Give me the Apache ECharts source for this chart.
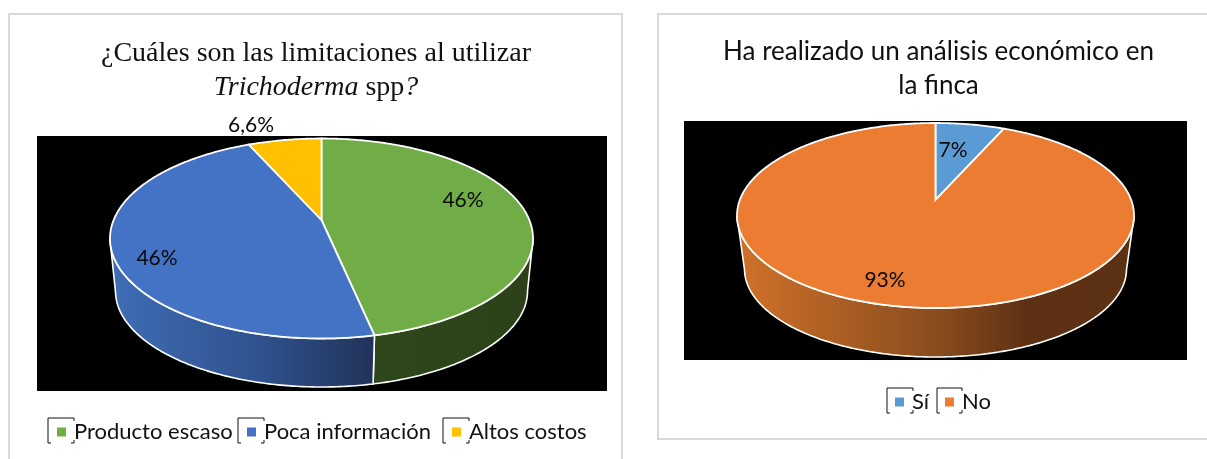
<!DOCTYPE html>
<html><head><meta charset="utf-8">
<style>html,body{margin:0;padding:0;background:#fff;overflow:hidden}#c{width:1207px;height:459px}</style>
<script src="https://cdn.jsdelivr.net/npm/echarts@6/dist/echarts.min.js"></script>
</head><body><div id="c"></div>
<script>
const limitCategories = ['Producto escaso', 'Poca información', 'Altos costos'];
const limitValues = [46, 46, 6.6];
const limitLabels = ['46%', '46%', '6,6%'];
const fincaCategories = ['Sí', 'No'];
const fincaValues = [6.6, 93.4];
const fincaLabels = ['7%', '93%'];

const limitColors = ['#70ad47', '#4472c4', '#ffc000'];
const fincaColors = ['#5b9bd5', '#eb7c32'];
const limitSideStops = [
  [[0, '#2e471b'], [1, '#2c4119']],
  [[0, '#3f6cb4'], [0.55, '#30528f'], [1, '#21335a']],
  [[0, '#a87f00'], [1, '#7f6000']]
];
const fincaSideStops = [
  [[0, '#3a6d9c'], [1, '#2f5577']],
  [[0, '#cd7029'], [0.5, '#8a4c1e'], [0.74, '#5e3114'], [1, '#5c3013']]
];

const limitShape = {cx: 321.5, cy: 238.5, rx: 211.5, ry: 100, a: 0.185, rx2: 206, cy2: 291, ry2: 96};
const fincaShape = {cx: 935.5, cy: 215.5, rx: 198.5, ry: 92.5, a: 0.168, rx2: 191, cy2: 269, ry2: 88};
const limitLabelAt = [[463, 200], [157, 258], [251, 125]];
const fincaLabelAt = [[953, 150], [885, 280]];

function rim(theta, a) {
  const u = Math.sin(theta), v = Math.cos(theta), d = 1 + a * v;
  return [u * Math.sqrt(1 - a * a) / d, (v + a) / d];
}

function sliceSeries(names, values, labels, colors, sideStops, g, labelAt) {
  const total = values.reduce((s, v) => s + v, 0);
  let acc = 0;
  return names.map((name, i) => {
    const t0 = acc / total * 2 * Math.PI;
    acc += values[i];
    const t1 = acc / total * 2 * Math.PI;
    return {
      type: 'custom', name, coordinateSystem: 'none', silent: true, z: 3 + i,
      itemStyle: {color: colors[i]},
      data: [values[i]],
      renderItem() {
        const n = Math.max(8, Math.ceil((t1 - t0) * 80));
        const top = [[g.cx, g.cy - g.a * g.ry]];
        const upper = [], lower = [];
        for (let k = 0; k <= n; k++) {
          const p = rim(t0 + (t1 - t0) * k / n, g.a);
          top.push([g.cx + g.rx * p[0], g.cy - g.ry * p[1]]);
          if (p[1] <= 0) {
            upper.push([g.cx + g.rx * p[0], g.cy - g.ry * p[1]]);
            lower.push([g.cx + g.rx2 * p[0], g.cy2 - g.ry2 * p[1]]);
          }
        }
        const children = [];
        if (upper.length > 1) {
          const xs = lower.map(q => q[0]);
          const x0 = Math.min(...xs), x1 = Math.max(...xs);
          children.push({
            type: 'polygon', shape: {points: upper.concat(lower.reverse())},
            style: {
              fill: new echarts.graphic.LinearGradient(x0, 0, x1, 0,
                sideStops[i].map(s => ({offset: s[0], color: s[1]})), true),
              stroke: '#fff', lineWidth: 1.6
            }
          });
        }
        children.push({type: 'polygon', shape: {points: top},
          style: {fill: colors[i], stroke: '#fff', lineWidth: 1.8}});
        children.push({type: 'text', z2: 50, style: {
          x: labelAt[i][0], y: labelAt[i][1], text: labels[i], fill: '#0a0a0a',
          font: '21px Lato', align: 'center', verticalAlign: 'middle'}});
        return {type: 'group', children};
      }
    };
  });
}

function bracket(x0, y0, x1, y1) {
  const line = s => ({type: 'polyline', z: 1, shape: {points: s}, style: {fill: null, stroke: '#111', lineWidth: 1}});
  return [
    line([[x0 + 3, y1], [x0, y1], [x0, y0], [x1, y0], [x1, y0 + 3]]),
    line([[x1 - 3, y1], [x1, y1], [x1, y1 - 3]])
  ];
}
function legendItem(name, left, top) {
  return {data: [name], left, top, icon: 'rect', itemWidth: 9, itemHeight: 9, itemGap: 0, padding: 0,
    selectedMode: false, textStyle: {fontFamily: 'Lato', fontSize: 22, color: '#111', padding: [0, 0, 0, 3]}};
}
const card = (x, y, w, h) => ({type: 'rect', z: -2, shape: {x, y, width: w, height: h},
  style: {fill: '#fff', stroke: '#d9d9d9', lineWidth: 2}});
const black = (x, y, w, h) => ({type: 'rect', z: -1, shape: {x, y, width: w, height: h}, style: {fill: '#000'}});

const chart = echarts.init(document.getElementById('c'), null, {renderer: 'canvas'});
chart.setOption({
  animation: false,
  backgroundColor: '#fff',
  title: [
    {text: '¿Cuáles son las limitaciones al utilizar\n{i|Trichoderma} spp{i|?}', left: 311, top: 32, textAlign: 'center',
      textStyle: {fontFamily: 'Liberation Serif', fontSize: 28, fontWeight: 'normal', color: '#111', lineHeight: 34,
        rich: {i: {fontFamily: 'Liberation Serif', fontStyle: 'italic', fontSize: 28, color: '#111', lineHeight: 34}}}},
    {text: 'Ha realizado un análisis económico en\nla finca', left: 933.5, top: 30, textAlign: 'center',
      textStyle: {fontFamily: 'Lato', fontSize: 26, fontWeight: 'normal', color: '#111', lineHeight: 34}}
  ],
  legend: [
    legendItem(limitCategories[0], 57, 421),
    legendItem(limitCategories[1], 247, 421),
    legendItem(limitCategories[2], 452, 421),
    legendItem(fincaCategories[0], 895, 391),
    legendItem(fincaCategories[1], 945, 391)
  ],
  graphic: {elements: [
    card(9, 14, 613, 470),
    card(658, 14, 560, 425),
    black(37, 136, 570, 255),
    black(684, 121, 503, 239),
    ...bracket(48, 418, 74, 443),
    ...bracket(238, 418, 264, 443),
    ...bracket(443, 418, 469, 443),
    ...bracket(887, 388, 913, 413),
    ...bracket(937, 388, 962, 413)
  ]},
  series: [
    ...sliceSeries(limitCategories, limitValues, limitLabels, limitColors, limitSideStops, limitShape, limitLabelAt),
    ...sliceSeries(fincaCategories, fincaValues, fincaLabels, fincaColors, fincaSideStops, fincaShape, fincaLabelAt)
  ]
});
</script></body></html>
